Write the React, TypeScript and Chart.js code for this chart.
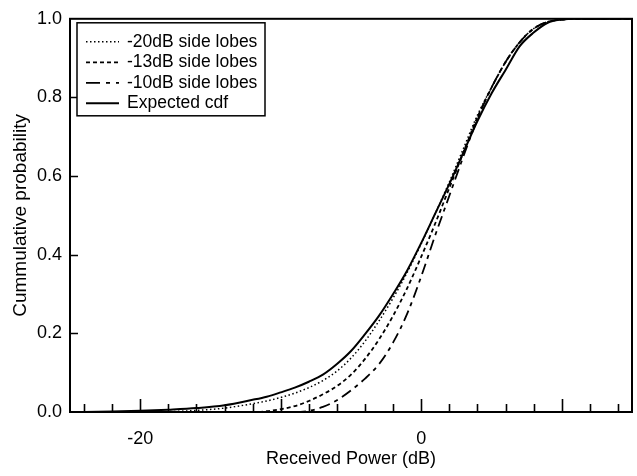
import React, { useEffect, useRef } from 'react';
import { Chart, registerables } from 'chart.js';

Chart.register(...registerables);

// ---- data ----
const powerDb = [-25, -22, -20, -18, -16, -14, -12, -11, -10, -9, -8, -7, -6, -5, -4, -3, -2, -1, 0, 1, 2, 3, 4, 5, 6, 7, 8, 9, 10, 11, 12, 15];
const expectedCdf = [0, 0.001, 0.003, 0.006, 0.01, 0.017, 0.031, 0.039, 0.05, 0.062, 0.077, 0.095, 0.122, 0.155, 0.198, 0.245, 0.3, 0.36, 0.43, 0.505, 0.58, 0.66, 0.74, 0.81, 0.87, 0.93, 0.965, 0.99, 0.998, 1, 1, 1];
const sideLobe20 = [0, 0, 0, 0.001, 0.004, 0.01, 0.021, 0.028, 0.037, 0.048, 0.062, 0.08, 0.104, 0.137, 0.18, 0.232, 0.29, 0.355, 0.428, 0.505, 0.585, 0.67, 0.755, 0.825, 0.89, 0.94, 0.975, 0.992, 0.998, 1, 1, 1];
const sideLobe13 = [0, 0, 0, 0, 0, 0, 0, 0.002, 0.007, 0.015, 0.028, 0.045, 0.066, 0.095, 0.135, 0.185, 0.245, 0.315, 0.395, 0.48, 0.57, 0.66, 0.75, 0.825, 0.89, 0.94, 0.975, 0.992, 0.998, 1, 1, 1];
const sideLobe10 = [0, 0, 0, 0, 0, 0, 0, 0, 0, 0, 0.003, 0.013, 0.03, 0.055, 0.085, 0.122, 0.177, 0.25, 0.345, 0.45, 0.55, 0.65, 0.745, 0.825, 0.89, 0.94, 0.975, 0.992, 0.998, 1, 1, 1];

const seriesLabels = ['-20dB side lobes', '-13dB side lobes', '-10dB side lobes', 'Expected cdf'];
const xTickLabels = [-20, 0];
const xMinorTicks = [-24, -22, -20, -18, -16, -14, -12, -10, -8, -6, -4, -2, 0, 2, 4, 6, 8, 10, 12, 14];
const xMajorTicks = [-20, -10, 0, 10];
const yTickValues = [0, 0.2, 0.4, 0.6, 0.8, 1.0];

const FONT = "'Liberation Sans', Arial, Helvetica, sans-serif";
const dashes = [[1.5, 2.5], [4, 3], [11, 5, 4, 5], []];
const widths = [1.5, 1.8, 1.8, 2];

const framePlugin = {
  id: 'frameTicks',
  afterDraw(chart: any) {
    const ctx = chart.ctx;
    const { left, right, top, bottom } = chart.chartArea;
    const xs = chart.scales.x;
    const ys = chart.scales.y;
    ctx.save();
    ctx.strokeStyle = '#000';
    ctx.lineWidth = 2;
    ctx.strokeRect(left, top, right - left, bottom - top);
    ctx.lineWidth = 1.6;
    ctx.beginPath();
    for (const v of xMinorTicks) {
      const px = Math.round(xs.getPixelForValue(v)) + 0.5;
      const len = xMajorTicks.includes(v) ? 13 : 8;
      ctx.moveTo(px, bottom);
      ctx.lineTo(px, bottom - len);
    }
    for (const v of yTickValues) {
      if (v === 0 || v === 1) continue;
      const py = Math.round(ys.getPixelForValue(v)) + 0.5;
      ctx.moveTo(left, py);
      ctx.lineTo(left + 8, py);
    }
    ctx.stroke();

    // legend box
    const bx = left + 7;
    const by = top + 4;
    const bw = 188;
    const bh = 93;
    ctx.fillStyle = '#fff';
    ctx.fillRect(bx, by, bw, bh);
    ctx.lineWidth = 1.5;
    ctx.strokeRect(bx, by, bw, bh);
    ctx.font = `17.5px ${FONT}`;
    ctx.textBaseline = 'middle';
    ctx.textAlign = 'left';
    ctx.fillStyle = '#000';
    seriesLabels.forEach((lab, i) => {
      const y = by + 19 + i * 20.5;
      ctx.beginPath();
      ctx.lineWidth = widths[i];
      ctx.setLineDash(i === 2 ? [14, 6, 4, 6] : dashes[i]);
      ctx.moveTo(bx + 9, y);
      ctx.lineTo(bx + 42, y);
      ctx.stroke();
      ctx.setLineDash([]);
      ctx.fillText(lab, bx + 50, y);
    });
    ctx.restore();
  },
};

export default function App() {
  const ref = useRef<HTMLCanvasElement>(null);
  useEffect(() => {
    if (!ref.current) return;
    const series = [sideLobe20, sideLobe13, sideLobe10, expectedCdf];
    const chart = new Chart(ref.current, {
      type: 'line',
      data: {
        datasets: series.map((arr, i) => ({
          label: seriesLabels[i],
          data: powerDb.map((x, j) => ({ x, y: arr[j] })),
          borderColor: '#000',
          borderWidth: widths[i],
          borderDash: dashes[i],
          pointRadius: 0,
          fill: false,
          cubicInterpolationMode: 'monotone' as const,
        })),
      },
      options: {
        animation: false,
        responsive: false,
        maintainAspectRatio: false,
        layout: { padding: { left: 0, right: 5, top: 18, bottom: 0 } },
        plugins: { legend: { display: false }, tooltip: { enabled: false } },
        scales: {
          x: {
            type: 'linear',
            min: -25,
            max: 15,
            afterBuildTicks: (s: any) => { s.ticks = xTickLabels.map((v) => ({ value: v })); },
            afterFit: (s: any) => { s.height = 64; },
            grid: { display: false, drawTicks: false },
            border: { display: false },
            ticks: {
              autoSkip: false,
              maxRotation: 0,
              padding: 16,
              color: '#000',
              font: { family: FONT, size: 18 },
              callback: (v: any) => String(v),
            },
            title: {
              display: true,
              text: 'Received Power (dB)',
              color: '#000',
              font: { family: FONT, size: 18 },
              padding: { top: 0, bottom: 6 },
            },
          },
          y: {
            type: 'linear',
            min: 0,
            max: 1,
            afterBuildTicks: (s: any) => { s.ticks = yTickValues.map((v) => ({ value: v })); },
            afterFit: (s: any) => { s.width = 70; },
            grid: { display: false, drawTicks: false },
            border: { display: false },
            ticks: {
              padding: 8,
              color: '#000',
              font: { family: FONT, size: 18 },
              callback: (v: any) => Number(v).toFixed(1),
            },
            title: {
              display: true,
              text: 'Cummulative probability',
              color: '#000',
              font: { family: FONT, size: 19 },
              padding: { top: 9, bottom: 0 },
            },
          },
        },
      },
      plugins: [framePlugin],
    });
    return () => chart.destroy();
  }, []);
  return (
    <div style={{ position: 'fixed', left: 0, top: 0, width: 637, height: 476, background: '#fff' }}>
      <canvas ref={ref} width={637} height={476} style={{ display: 'block' }} />
    </div>
  );
}
